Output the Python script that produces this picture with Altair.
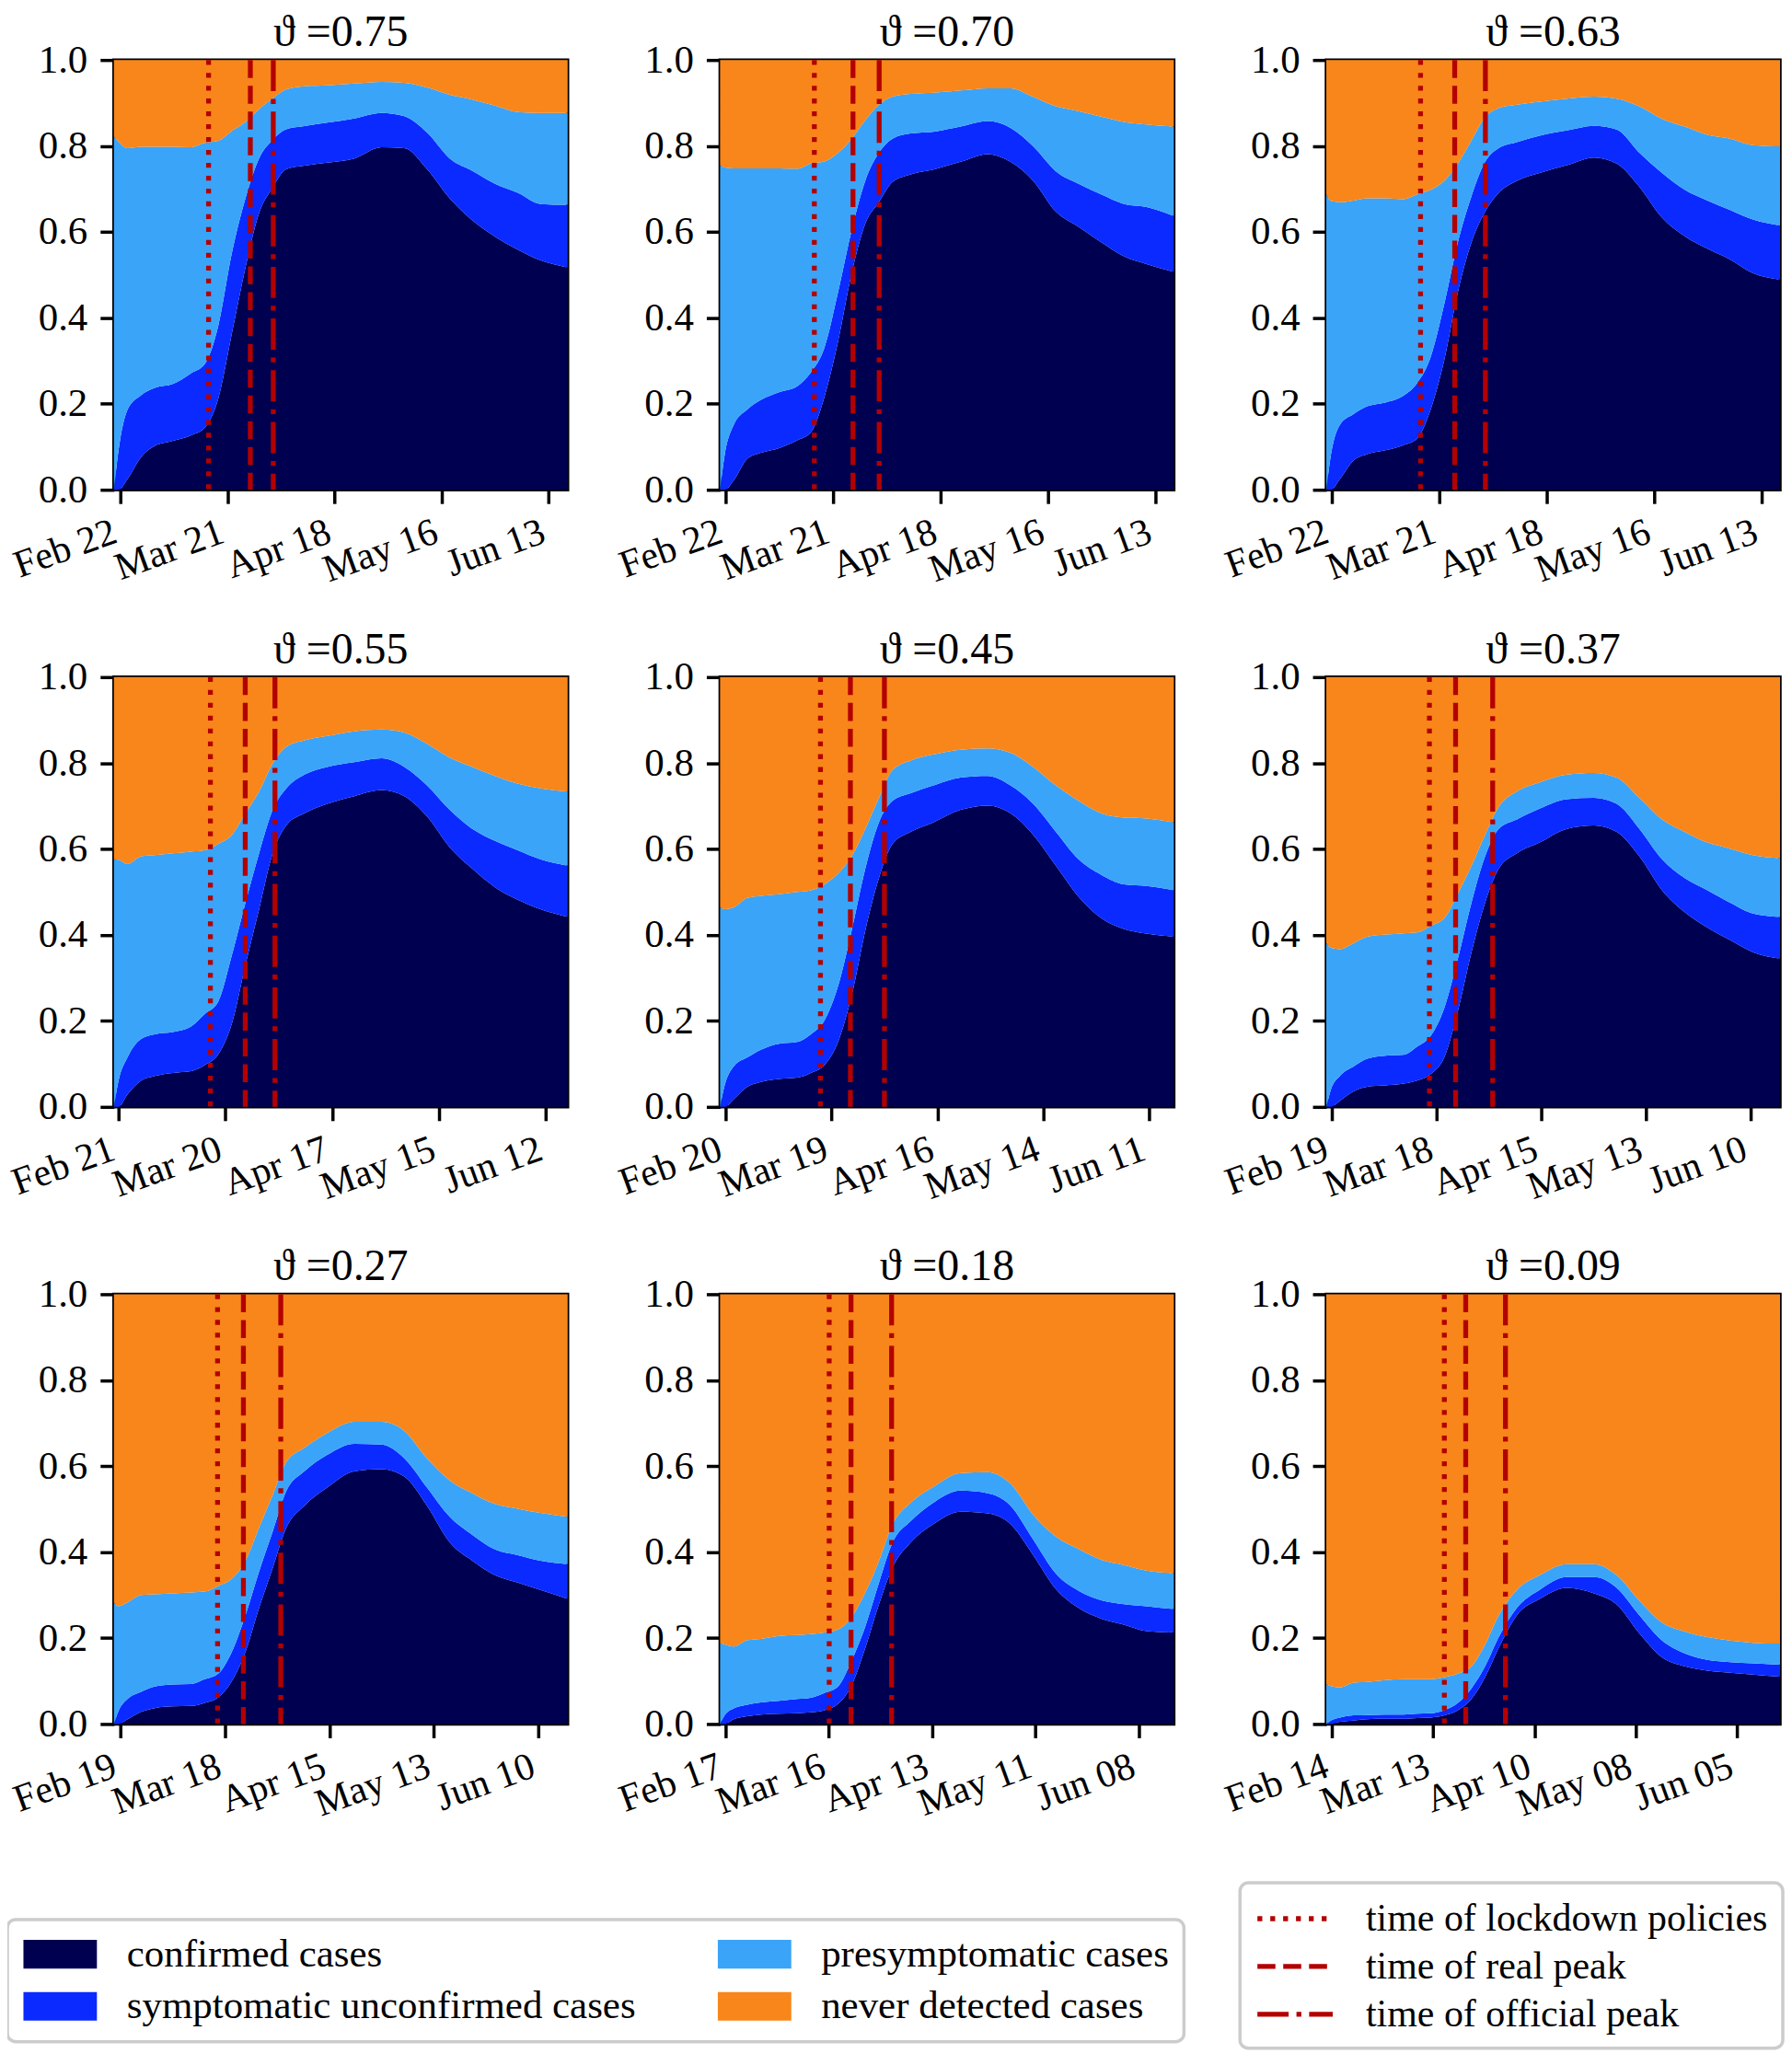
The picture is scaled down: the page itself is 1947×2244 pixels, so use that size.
import altair as alt
import pandas as pd

FONT = "Liberation Serif"
RED = "#b30000"

THETA = ["0.75", "0.70", "0.63", "0.55", "0.45", "0.37", "0.27", "0.18", "0.09"]

# time span covered by each panel (UTC)
START = ["2020-02-20T08:00", "2020-02-20T12:00", "2020-02-20T12:00",
         "2020-02-19T19:00", "2020-02-18T13:00", "2020-02-17T12:00",
         "2020-02-17T08:00", "2020-02-15T12:00", "2020-02-12T10:00"]
END = ["2020-06-17T23:00", "2020-06-17T21:00", "2020-06-17T21:00",
       "2020-06-17T17:00", "2020-06-17T13:00", "2020-06-17T21:00",
       "2020-06-17T19:00", "2020-06-17T13:00", "2020-06-17T00:00"]

TICKS = [
    ["2020-02-22", "2020-03-21", "2020-04-18", "2020-05-16", "2020-06-13"],
    ["2020-02-22", "2020-03-21", "2020-04-18", "2020-05-16", "2020-06-13"],
    ["2020-02-22", "2020-03-21", "2020-04-18", "2020-05-16", "2020-06-13"],
    ["2020-02-21", "2020-03-20", "2020-04-17", "2020-05-15", "2020-06-12"],
    ["2020-02-20", "2020-03-19", "2020-04-16", "2020-05-14", "2020-06-11"],
    ["2020-02-19", "2020-03-18", "2020-04-15", "2020-05-13", "2020-06-10"],
    ["2020-02-19", "2020-03-18", "2020-04-15", "2020-05-13", "2020-06-10"],
    ["2020-02-17", "2020-03-16", "2020-04-13", "2020-05-11", "2020-06-08"],
    ["2020-02-14", "2020-03-13", "2020-04-10", "2020-05-08", "2020-06-05"],
]

LOCKDOWN = ["2020-03-16T02:00"] * 9
REAL_PEAK = ["2020-03-27", "2020-03-26T04:00", "2020-03-25", "2020-03-25T05:00",
             "2020-03-24", "2020-03-23T02:00", "2020-03-23", "2020-03-22", "2020-03-22"]
OFFICIAL_PEAK = ["2020-04-02"] * 9

# sampling positions, as a fraction of each panel's time span
FRAC = [0, .01, .03, .06, .09, .13, .17, .20, .23, .26, .29, .32, .35,
        .38, .42, .47, .53, .59, .64, .69, .74, .79, .84, .89, .94, 1.0]

# cumulative shares: top of confirmed, of symptomatic unconfirmed, of presymptomatic
CONF_075 = [0, 0, .025, .076, .102, .114, .127, .144, .212, .364, .517, .644, .703,
            .746, .754, .761, .771, .797, .795, .746, .678, .627, .589, .559, .534, .517]
SYMP_075 = [0, .09, .186, .22, .237, .246, .271, .292, .381, .551, .678, .771, .814,
            .839, .846, .854, .864, .877, .869, .831, .771, .742, .712, .691, .665, .663]
PRES_075 = [.822, .81, .795, .798, .798, .798, .797, .807, .812, .835, .856, .886, .911,
            .932, .939, .941, .945, .949, .947, .936, .919, .908, .894, .879, .877, .877]

CONF_070 = [0, 0, .022, .072, .086, .097, .115, .133, .216, .345, .504, .619, .669,
            .716, .734, .745, .763, .781, .763, .719, .647, .612, .576, .543, .525, .507]
SYMP_070 = [0, .08, .151, .187, .209, .227, .241, .273, .331, .46, .604, .719, .784,
            .817, .829, .833, .845, .858, .842, .799, .741, .712, .687, .665, .658, .637]
PRES_070 = [.755, .75, .748, .748, .748, .748, .747, .759, .764, .784, .817, .86, .896,
            .915, .921, .924, .929, .934, .934, .914, .892, .881, .868, .856, .85, .845]

CONF_063 = [0, 0, .025, .068, .083, .092, .104, .119, .187, .302, .46, .576, .647,
            .691, .719, .737, .755, .773, .759, .705, .633, .59, .561, .536, .504, .489]
SYMP_063 = [0, .08, .151, .176, .194, .203, .219, .248, .309, .432, .576, .683, .763,
            .795, .809, .824, .836, .847, .838, .784, .737, .698, .673, .651, .629, .615]
PRES_063 = [.687, .672, .669, .673, .678, .678, .676, .687, .698, .719, .759, .813, .867,
            .888, .896, .903, .91, .915, .91, .892, .863, .845, .826, .817, .802, .799]

CONF_055 = [0, 0, .029, .061, .072, .079, .083, .097, .122, .194, .331, .46, .59,
            .655, .683, .705, .723, .737, .723, .676, .604, .554, .511, .482, .46, .442]
SYMP_055 = [0, .06, .115, .158, .169, .174, .187, .216, .245, .353, .475, .59, .691,
            .741, .773, .791, .802, .811, .791, .748, .691, .647, .619, .597, .576, .561]
PRES_055 = [.576, .575, .565, .583, .586, .59, .594, .597, .612, .633, .683, .734, .799,
            .838, .853, .863, .874, .878, .871, .845, .813, .791, .77, .752, .741, .734]

CONF_045 = [0, 0, .018, .047, .058, .065, .068, .079, .097, .151, .259, .41, .532,
            .612, .64, .662, .691, .701, .683, .633, .561, .489, .439, .414, .403, .396]
SYMP_045 = [0, .05, .094, .115, .133, .147, .151, .169, .201, .281, .41, .554, .662,
            .712, .73, .748, .766, .77, .748, .705, .64, .576, .54, .518, .514, .504]
PRES_045 = [.464, .46, .464, .486, .491, .495, .5, .504, .518, .543, .583, .647, .719,
            .784, .806, .82, .831, .834, .824, .791, .748, .712, .683, .673, .671, .662]

CONF_037 = [0, 0, .014, .036, .047, .05, .054, .061, .076, .115, .223, .36, .475,
            .554, .59, .615, .647, .655, .64, .583, .504, .453, .417, .388, .36, .345]
SYMP_037 = [0, .04, .072, .094, .112, .119, .121, .14, .165, .23, .345, .475, .583,
            .647, .669, .694, .716, .719, .705, .647, .576, .532, .504, .475, .45, .442]
PRES_037 = [.381, .37, .367, .381, .396, .401, .404, .406, .421, .439, .496, .561, .633,
            .698, .734, .755, .773, .777, .766, .719, .669, .64, .615, .601, .586, .579]

CONF_027 = [0, 0, .011, .028, .037, .041, .042, .049, .062, .1, .168, .27, .363,
            .457, .508, .55, .588, .593, .576, .508, .423, .38, .346, .329, .312, .291]
SYMP_027 = [0, .03, .058, .075, .087, .092, .093, .104, .117, .168, .253, .355, .448,
            .542, .588, .626, .652, .65, .618, .55, .482, .44, .406, .393, .38, .372]
PRES_027 = [.283, .274, .283, .3, .302, .304, .306, .308, .321, .338, .38, .457, .533,
            .61, .643, .677, .703, .703, .682, .618, .567, .537, .512, .501, .491, .482]

CONF_018 = [0, 0, .011, .018, .022, .024, .025, .027, .032, .047, .09, .177, .278,
            .364, .422, .465, .494, .49, .465, .393, .314, .27, .245, .231, .216, .213]
SYMP_018 = [0, .02, .036, .045, .05, .054, .058, .061, .072, .087, .148, .227, .328,
            .422, .472, .515, .543, .537, .508, .429, .35, .31, .288, .279, .274, .267]
PRES_018 = [.187, .185, .18, .195, .198, .205, .207, .209, .213, .22, .249, .306, .379,
            .465, .515, .552, .584, .586, .559, .487, .436, .407, .382, .37, .357, .351]

CONF_009 = [0, 0, .005, .008, .011, .012, .012, .014, .015, .02, .032, .058, .109,
            .177, .253, .291, .317, .304, .278, .211, .155, .134, .124, .119, .115, .11]
SYMP_009 = [0, .008, .015, .02, .021, .022, .022, .024, .025, .032, .049, .083, .134,
            .202, .27, .312, .342, .342, .317, .253, .194, .164, .149, .144, .141, .138]
PRES_009 = [.092, .088, .085, .096, .098, .102, .104, .104, .104, .109, .117, .134, .185,
            .253, .312, .346, .372, .372, .346, .287, .236, .215, .202, .194, .189, .187]

CONFIRMED = [CONF_075, CONF_070, CONF_063, CONF_055, CONF_045, CONF_037, CONF_027, CONF_018, CONF_009]
SYMPTOMATIC = [SYMP_075, SYMP_070, SYMP_063, SYMP_055, SYMP_045, SYMP_037, SYMP_027, SYMP_018, SYMP_009]
PRESYMPT = [PRES_075, PRES_070, PRES_063, PRES_055, PRES_045, PRES_037, PRES_027, PRES_018, PRES_009]

LAYERS = ["confirmed cases", "symptomatic unconfirmed cases",
          "presymptomatic cases", "never detected cases"]
LAYER_COLORS = ["#000050", "#0a2aff", "#3aa4f9", "#f8861a"]

KINDS = ["time of lockdown policies", "time of real peak", "time of official peak"]
DASHES = [[5.3, 8.7], [19.6, 8.5], [34, 8.5, 5.3, 8.5]]


def ms(s):
    return int(pd.Timestamp(s, tz="UTC").value // 10**6)


fill_legend = alt.Legend(
    title=None, orient="none", legendX=-116, legendY=2025, columns=2,
    symbolType="M-1,-0.78L3,-0.78L3,0.78L-1,0.78Z", symbolSize=1600,
    symbolStrokeWidth=0, symbolOpacity=1,
    labelFont=FONT, labelFontSize=43, labelColor="black", labelLimit=900,
    labelOffset=71, rowPadding=13, columnPadding=87, padding=16,
    strokeColor="#cccccc", cornerRadius=9, fillColor="white",
)
dash_legend = alt.Legend(
    title=None, orient="none", legendX=1226, legendY=1985,
    symbolType="M-1,0L3.1,0", symbolSize=1600, symbolStrokeWidth=5.3,
    symbolStrokeColor=RED, symbolFillColor="transparent",
    labelFont=FONT, labelFontSize=42, labelColor="black", labelLimit=900,
    labelOffset=75, rowPadding=8, padding=16,
    strokeColor="#cccccc", cornerRadius=9, fillColor="white",
)


def panel(i):
    s, e = ms(START[i]), ms(END[i])
    lowers = [[0] * len(FRAC), CONFIRMED[i], SYMPTOMATIC[i], PRESYMPT[i]]
    uppers = [CONFIRMED[i], SYMPTOMATIC[i], PRESYMPT[i], [1] * len(FRAC)]
    rows = []
    for name, lo, hi in zip(LAYERS, lowers, uppers):
        for f, a, b in zip(FRAC, lo, hi):
            rows.append({"t": s + f * (e - s), "lo": a, "hi": b, "layer": name})
    df = pd.DataFrame(rows)
    rdf = pd.DataFrame({"t": [ms(LOCKDOWN[i]), ms(REAL_PEAK[i]), ms(OFFICIAL_PEAK[i])],
                        "kind": KINDS})

    xscale = alt.Scale(type="utc", domain=[s, e], nice=False)
    xaxis = alt.Axis(values=[ms(t) for t in TICKS[i]],
                     labelExpr="utcFormat(datum.value, '%b %d')",
                     labelAngle=340, labelAlign="right", labelBaseline="top",
                     labelPadding=10, labelOffset=-13, labelFontSize=42,
                     labelOverlap=False, labelBound=False, labelFlush=False, title=None)
    yaxis = alt.Axis(values=[0, 0.2, 0.4, 0.6, 0.8, 1.0], format=".1f",
                     labelPadding=14, labelOverlap=False, labelFlush=False, title=None)

    area = alt.Chart(df).mark_area(interpolate="monotone").encode(
        x=alt.X("t:T", scale=xscale, axis=xaxis),
        y=alt.Y("lo:Q", scale=alt.Scale(domain=[0, 1], nice=False, zero=False), axis=yaxis),
        y2="hi:Q",
        color=alt.Color("layer:N",
                        scale=alt.Scale(domain=LAYERS, range=LAYER_COLORS),
                        legend=fill_legend),
    )
    rules = alt.Chart(rdf).mark_rule(color=RED, strokeWidth=5.3).encode(
        x=alt.X("t:T", scale=xscale),
        strokeDash=alt.StrokeDash("kind:N", scale=alt.Scale(domain=KINDS, range=DASHES),
                                  legend=dash_legend),
    )
    return alt.layer(area, rules).properties(
        width=494, height=468, title=alt.Title("ϑ =" + THETA[i])
    )


chart = alt.concat(
    *[panel(i) for i in range(9)], columns=3,
    spacing={"row": 204, "column": 166}, bounds="flush"
).resolve_scale(
    x="independent", y="independent", color="shared", strokeDash="shared"
).properties(
    padding={"left": -3, "top": 0, "right": 0, "bottom": 0}
).configure_axis(
    domain=False, ticks=True, tickColor="black", tickWidth=3.5, tickSize=15,
    labelFont=FONT, labelFontSize=43, labelColor="black", grid=False,
).configure_legend(
    strokeWidth=3.5
).configure_view(
    stroke="black", strokeWidth=3.5
).configure_title(
    font=FONT, fontSize=48, fontWeight="normal", color="black", offset=-16, anchor="middle"
)

chart.save("out.html", embed_options={"renderer": "svg", "actions": False})
